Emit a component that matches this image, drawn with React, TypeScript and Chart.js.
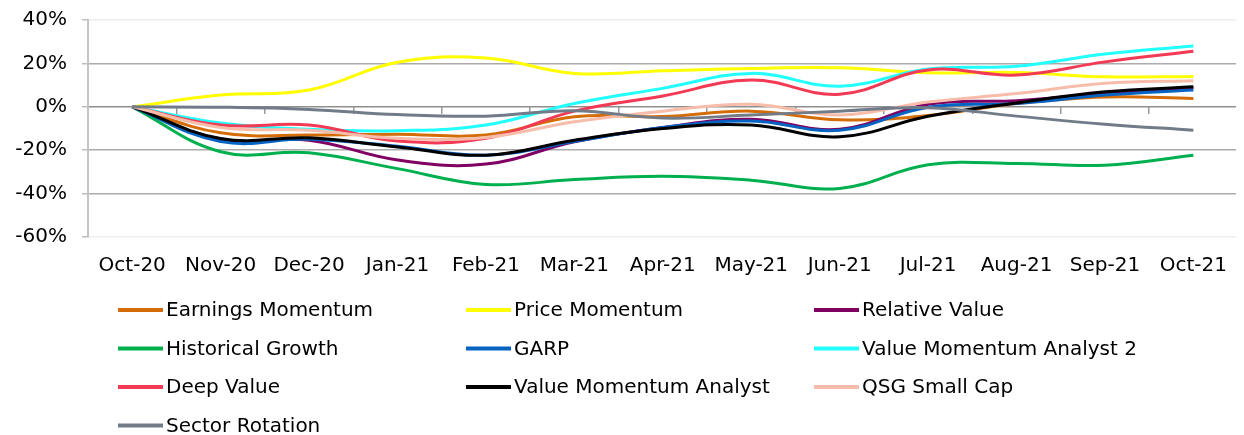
import React, { useEffect, useRef } from "react";
import { Chart, registerables } from "chart.js";

Chart.register(...registerables);

const months = ["Oct-20", "Nov-20", "Dec-20", "Jan-21", "Feb-21", "Mar-21", "Apr-21", "May-21", "Jun-21", "Jul-21", "Aug-21", "Sep-21", "Oct-21"];

const earningsMomentum = [0, -12, -13, -12.6, -13, -4.6, -4.5, -2, -6, -4, 1.5, 4.5, 3.8];
const priceMomentum = [0, 5.4, 7.7, 20.5, 22.5, 15.4, 16.6, 17.7, 18, 15.7, 15.8, 13.8, 14];
const relativeValue = [0, -15, -15.4, -24.5, -26.4, -16.1, -9.5, -5.7, -10.4, 1.2, 2.8, 6.1, 8.9];
const historicalGrowth = [0, -20.7, -21.2, -28.5, -35.8, -33.5, -32, -33.8, -37.6, -26.7, -26.1, -26.9, -22.3];
const garp = [0, -16, -14.9, -18.2, -22.3, -16, -9.5, -6.6, -10.8, -0.2, 1.5, 5.4, 7.7];
const valueMomentumAnalyst2 = [0, -7.5, -10.4, -11, -8.4, 1.5, 8.5, 15.4, 9.5, 17.4, 18.7, 24.3, 28];
const deepValue = [0, -8.4, -8.4, -15.8, -14.5, -2, 5, 12.3, 5.8, 17, 14.6, 20.7, 25.6];
const valueMomentumAnalyst = [0, -14.6, -14.3, -18.5, -22.3, -15.4, -10, -8.4, -13.8, -4.4, 1.8, 6.9, 9.2];
const qsgSmallCap = [0, -9.5, -10.8, -14.5, -14.1, -6.9, -2, 1.2, -3.8, 2.2, 6.1, 10.8, 12];
const sectorRotation = [0, -0.2, -1.2, -3.6, -4.3, -1.8, -5.2, -3.8, -2, -0.4, -4.3, -8, -10.8];

const seriesNames = ["Earnings Momentum", "Price Momentum", "Relative Value", "Historical Growth", "GARP", "Value Momentum Analyst 2", "Deep Value", "Value Momentum Analyst", "QSG Small Cap", "Sector Rotation"];
const seriesValues = [earningsMomentum, priceMomentum, relativeValue, historicalGrowth, garp, valueMomentumAnalyst2, deepValue, valueMomentumAnalyst, qsgSmallCap, sectorRotation];
const seriesColors = ["#D46C08", "#FFFF00", "#7F0062", "#00B04F", "#0563C1", "#22FFFF", "#F23A55", "#000000", "#F7BDAA", "#727C89"];

const yTicks = [-60, -40, -20, 0, 20, 40];

const FONT = "'DejaVu Sans', Verdana, sans-serif";

const legendPlugin = {
  id: "gridLegend",
  afterDraw(chart: any) {
    const ctx = chart.ctx;
    ctx.save();
    ctx.font = `20px ${FONT}`;
    ctx.textBaseline = "middle";
    ctx.textAlign = "left";
    chart.data.datasets.forEach((ds: any, i: number) => {
      const col = i % 3;
      const row = Math.floor(i / 3);
      const x = 110 + col * 348;
      const y = 302 + row * 38.5;
      ctx.strokeStyle = ds.borderColor;
      ctx.lineWidth = 4;
      ctx.lineCap = "butt";
      ctx.beginPath();
      ctx.moveTo(x, y);
      ctx.lineTo(x + 45, y);
      ctx.stroke();
      ctx.fillStyle = "#000000";
      ctx.fillText(ds.label, x + 48, y + 1);
    });
    ctx.restore();
  },
};

export default function App() {
  const ref = useRef<HTMLCanvasElement | null>(null);
  useEffect(() => {
    if (!ref.current) return;
    const n = seriesNames.length;
    const chart = new Chart(ref.current, {
      type: "line",
      data: {
        labels: months,
        datasets: seriesNames.map((name, i) => ({
          label: name,
          data: seriesValues[i],
          borderColor: seriesColors[i],
          backgroundColor: seriesColors[i],
          borderWidth: 3,
          pointRadius: 0,
          tension: 0.4,
          fill: false,
          order: n - i,
        })),
      },
      options: {
        responsive: false,
        animation: false,
        events: [],
        layout: { padding: { top: 12, bottom: 148, left: 0, right: 0 } },
        plugins: { legend: { display: false }, tooltip: { enabled: false } },
        font: { family: FONT, size: 20 },
        scales: {
          x: {
            type: "category",
            offset: true,
            grid: { display: false, drawTicks: false },
            border: { display: false },
            ticks: { color: "#000", font: { family: FONT, size: 20 }, padding: 17, maxRotation: 0, autoSkip: false },
            afterFit(scale: any) { scale.height = 50; },
          },
          x2: {
            type: "category",
            position: { y: 0 } as any,
            offset: true,
            grid: { offset: true, drawOnChartArea: false, drawTicks: true, tickLength: 7, color: "#9a9a9a", lineWidth: 1.5 },
            border: { display: false },
            ticks: { display: false },
          },
          y: {
            min: -60,
            max: 40,
            afterBuildTicks(scale: any) { scale.ticks = yTicks.map((v) => ({ value: v })); },
            grid: {
              color: (c: any) => (c.tick && (c.tick.value === 40 || c.tick.value === -60) ? "#eeeeee" : c.tick && c.tick.value === 0 ? "#8f8f8f" : "#ababab"),
              lineWidth: 1.5,
              tickLength: 6,
              tickColor: "#bdbdbd",
            },
            border: { display: true, color: "#c4c4c4", width: 2 },
            ticks: { color: "#000", font: { family: FONT, size: 20 }, padding: 15, callback: (v: any) => `${v}%` },
            afterFit(scale: any) {
              scale.width = 80;
              scale.paddingTop = 0;
              scale.paddingBottom = 0;
            },
          },
        },
      },
      plugins: [legendPlugin],
    });
    return () => chart.destroy();
  }, []);
  return (
    <div style={{ width: 1236, height: 427 }}>
      <canvas ref={ref} width={1236} height={427} style={{ display: "block", width: 1236, height: 427 }} />
    </div>
  );
}
